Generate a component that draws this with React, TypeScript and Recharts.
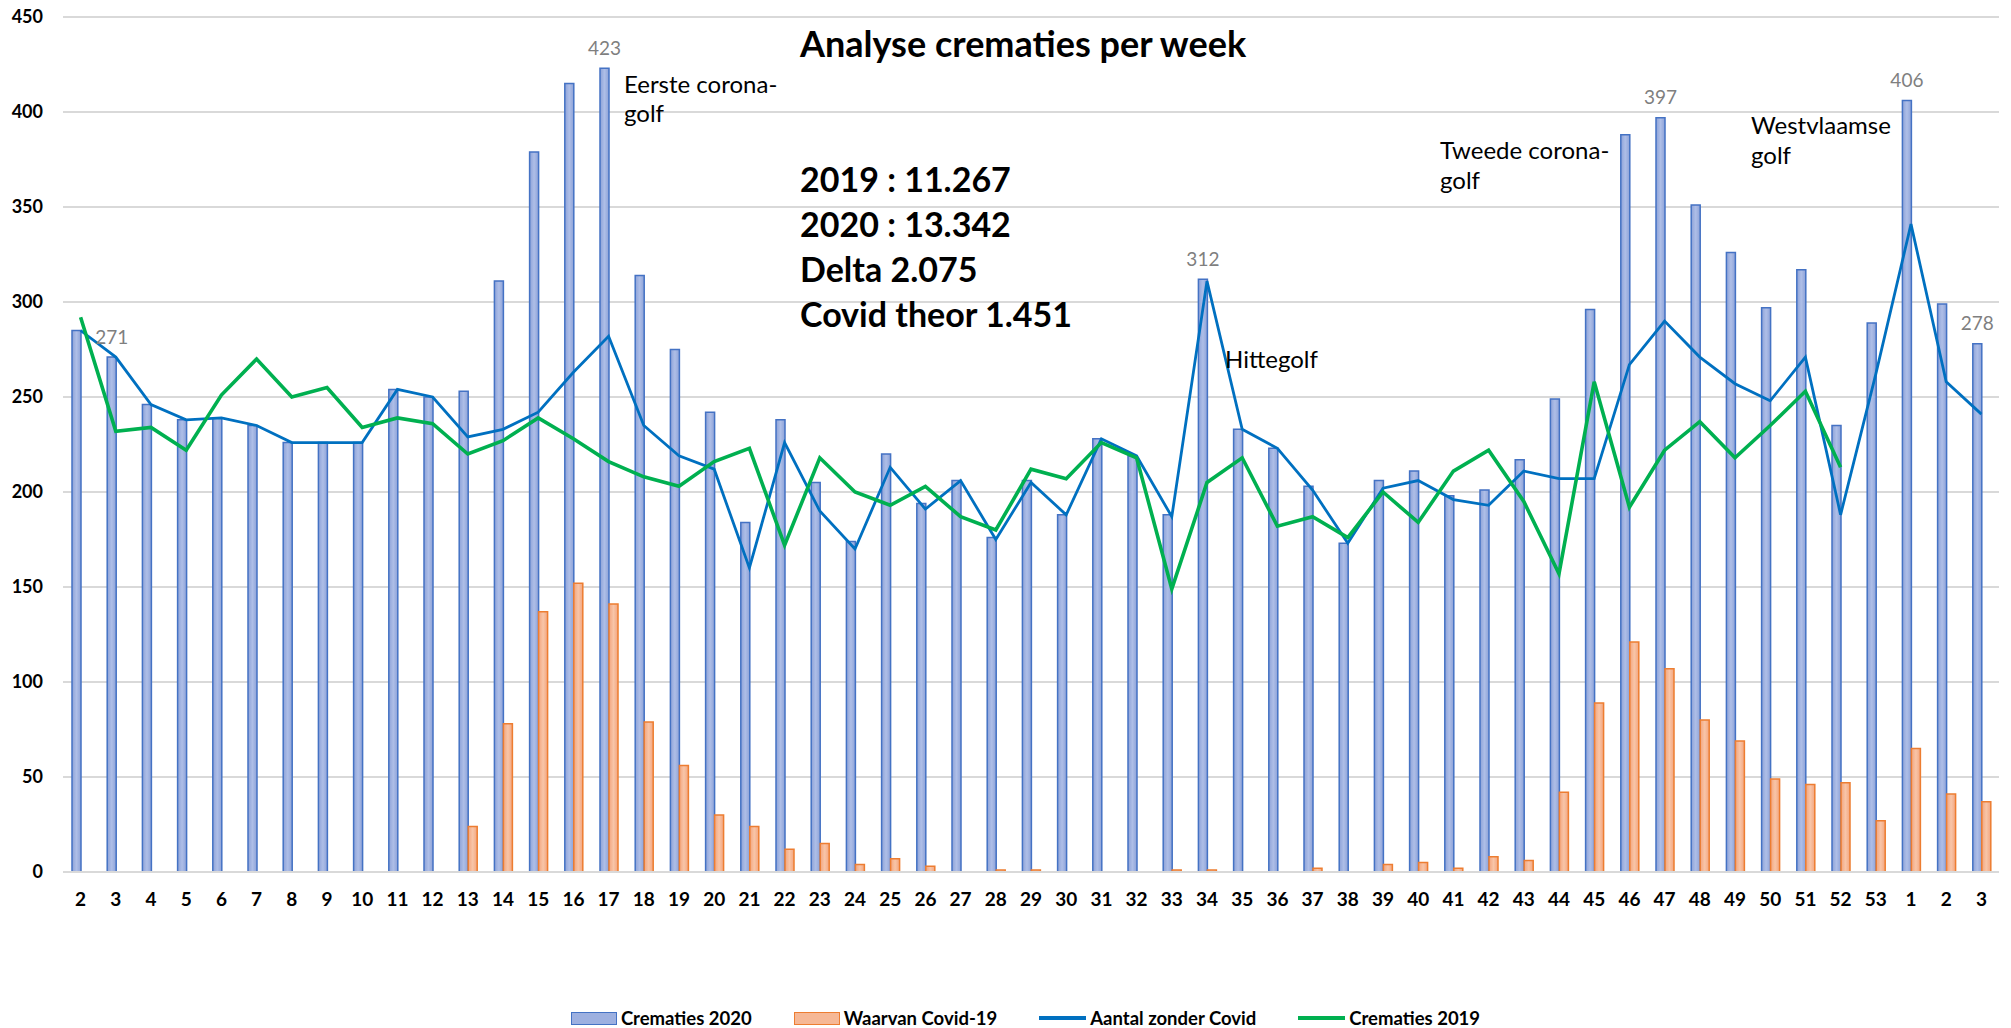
import { ComposedChart, Bar, Line, XAxis, YAxis, CartesianGrid, LabelList } from "recharts";

const weeks = [
  "2", "3", "4", "5", "6", "7", "8", "9", "10", "11", "12", "13", "14", "15", "16", "17", "18", "19",
  "20", "21", "22", "23", "24", "25", "26", "27", "28", "29", "30", "31", "32", "33", "34", "35", "36",
  "37", "38", "39", "40", "41", "42", "43", "44", "45", "46", "47", "48", "49", "50", "51", "52", "53",
  "1", "2", "3",
];

const crematies2020 = [
  285, 271, 246, 238, 239, 235, 226, 226, 226, 254, 250, 253, 311, 379, 415, 423, 314, 275,
  242, 184, 238, 205, 174, 220, 194, 206, 176, 206, 188, 228, 219, 188, 312, 233, 223,
  203, 173, 206, 211, 198, 201, 217, 249, 296, 388, 397, 351, 326, 297, 317, 235, 289,
  406, 299, 278,
];

const waarvanCovid = [
  0, 0, 0, 0, 0, 0, 0, 0, 0, 0, 0, 24, 78, 137, 152, 141, 79, 56,
  30, 24, 12, 15, 4, 7, 3, 0, 1, 1, 0, 0, 0, 1, 1, 0, 0,
  2, 0, 4, 5, 2, 8, 6, 42, 89, 121, 107, 80, 69, 49, 46, 47, 27,
  65, 41, 37,
];

const aantalZonderCovid = [
  285, 271, 246, 238, 239, 235, 226, 226, 226, 254, 250, 229, 233, 242, 263, 282, 235, 219,
  212, 160, 226, 190, 170, 213, 191, 206, 175, 205, 188, 228, 219, 187, 311, 233, 223,
  201, 173, 202, 206, 196, 193, 211, 207, 207, 267, 290, 271, 257, 248, 271, 188, 262,
  341, 258, 241,
];

const crematies2019 = [
  292, 232, 234, 222, 251, 270, 250, 255, 234, 239, 236, 220, 227, 239, 228, 216, 208, 203,
  216, 223, 172, 218, 200, 193, 203, 187, 180, 212, 207, 226, 218, 149, 205, 218, 182,
  187, 176, 200, 184, 211, 222, 195, 157, 258, 192, 222, 237, 218, 235, 253, 213, null,
  null, null, null,
];

const yTicks = [0, 50, 100, 150, 200, 250, 300, 350, 400, 450];

// bars that carry a grey value label in the original
const labelledIdx = [1, 15, 32, 45, 52, 54];

const statsLines = ["2019 : 11.267", "2020 : 13.342", "Delta 2.075", "Covid theor 1.451"];

const data = weeks.map((w, i) => ({
  week: w,
  c2020: crematies2020[i],
  covid: waarvanCovid[i],
  zonder: aantalZonderCovid[i],
  c2019: crematies2019[i],
}));

const FONT = "Lato, 'Open Sans', sans-serif";

const PeakLabel = (props: any) => {
  const { x, y, width, value, index } = props;
  if (!labelledIdx.includes(index)) return null;
  return (
    <text
      x={x + width / 2}
      y={y - 21}
      textAnchor="middle"
      dominantBaseline="central"
      fill="#7F7F7F"
      fontSize={19}
      fontFamily={FONT}
    >
      {value}
    </text>
  );
};

const legendItems = [
  { name: "Crematies 2020", kind: "bar", fill: "#9DB0E0", stroke: "#4472C4" },
  { name: "Waarvan Covid-19", kind: "bar", fill: "#F6B896", stroke: "#ED7D31" },
  { name: "Aantal zonder Covid", kind: "line", stroke: "#0070C0" },
  { name: "Crematies 2019", kind: "line", stroke: "#00B050" },
];

export default function App() {
  return (
    <div style={{ position: "relative", width: 2011, height: 1028, fontFamily: FONT, background: "#fff" }}>
      <style>{`body{margin:0}`}</style>
      <svg width={0} height={0} style={{ position: "absolute" }}>
        <defs>
          <linearGradient id="gBlue" x1="0" y1="0" x2="1" y2="0">
            <stop offset="0%" stopColor="#8DA2D8" />
            <stop offset="50%" stopColor="#AEBEE7" />
            <stop offset="100%" stopColor="#8DA2D8" />
          </linearGradient>
          <linearGradient id="gOrange" x1="0" y1="0" x2="1" y2="0">
            <stop offset="0%" stopColor="#F3A57E" />
            <stop offset="50%" stopColor="#F8C5A8" />
            <stop offset="100%" stopColor="#F3A57E" />
          </linearGradient>
        </defs>
      </svg>

      <ComposedChart
        width={2011}
        height={1028}
        data={data}
        margin={{ top: 17, right: 12, left: 0, bottom: 116 }}
        barSize={9}
        barGap={0}
      >
        <CartesianGrid vertical={false} stroke="#D9D9D9" strokeWidth={2} />
        <XAxis
          dataKey="week"
          interval={0}
          height={40}
          tickLine={false}
          tickMargin={15}
          axisLine={{ stroke: "#D9D9D9", strokeWidth: 2 }}
          tick={{ fill: "#000", fontSize: 19, fontWeight: 700, fontFamily: FONT }}
        />
        <YAxis
          width={63}
          domain={[0, 450]}
          ticks={yTicks}
          interval={0}
          axisLine={false}
          tickLine={false}
          tickMargin={14}
          tick={{ fill: "#000", fontSize: 18, fontWeight: 700, fontFamily: FONT }}
        />
        <Bar dataKey="c2020" name="Crematies 2020" fill="url(#gBlue)" stroke="#4472C4" strokeWidth={1.5} isAnimationActive={false}>
          <LabelList dataKey="c2020" content={PeakLabel} />
        </Bar>
        <Bar dataKey="covid" name="Waarvan Covid-19" fill="url(#gOrange)" stroke="#ED7D31" strokeWidth={1.5} isAnimationActive={false} />
        <Line
          dataKey="zonder"
          name="Aantal zonder Covid"
          type="linear"
          stroke="#0070C0"
          strokeWidth={2.8}
          dot={false}
          activeDot={false}
          isAnimationActive={false}
        />
        <Line
          dataKey="c2019"
          name="Crematies 2019"
          type="linear"
          stroke="#00B050"
          strokeWidth={3.6}
          dot={false}
          activeDot={false}
          connectNulls={false}
          isAnimationActive={false}
        />
      </ComposedChart>

      <svg width={2011} height={1028} style={{ position: "absolute", left: 0, top: 0, pointerEvents: "none" }}>
        <g fontFamily={FONT} fill="#000">
          <text x={800} y={57} fontSize={36} fontWeight={700}>Analyse crematies per week</text>
          {statsLines.map((s, i) => (
            <text key={s} x={800} y={192 + i * 45} fontSize={34} fontWeight={700}>{s}</text>
          ))}
          <text x={624} y={93} fontSize={24}>Eerste corona-</text>
          <text x={624} y={122} fontSize={24}>golf</text>
          <text x={1440} y={159} fontSize={24}>Tweede corona-</text>
          <text x={1440} y={189} fontSize={24}>golf</text>
          <text x={1751} y={134} fontSize={24}>Westvlaamse</text>
          <text x={1751} y={164} fontSize={24}>golf</text>
          <text x={1225} y={368} fontSize={24}>Hittegolf</text>
        </g>
      </svg>

      <div
        style={{
          position: "absolute",
          left: 40,
          width: 1971,
          top: 1006,
          height: 24,
          display: "flex",
          justifyContent: "center",
          alignItems: "center",
          gap: 42,
        }}
      >
        {legendItems.map((it) => (
          <div key={it.name} style={{ display: "flex", alignItems: "center", gap: 4 }}>
            {it.kind === "bar" ? (
              <span
                style={{
                  display: "inline-block",
                  width: 44,
                  height: 11,
                  background: it.fill,
                  border: `1.5px solid ${it.stroke}`,
                }}
              />
            ) : (
              <span style={{ display: "inline-block", width: 47, height: 4, background: it.stroke }} />
            )}
            <span style={{ fontSize: 18.5, fontWeight: 700, color: "#000", lineHeight: "24px" }}>{it.name}</span>
          </div>
        ))}
      </div>
    </div>
  );
}
